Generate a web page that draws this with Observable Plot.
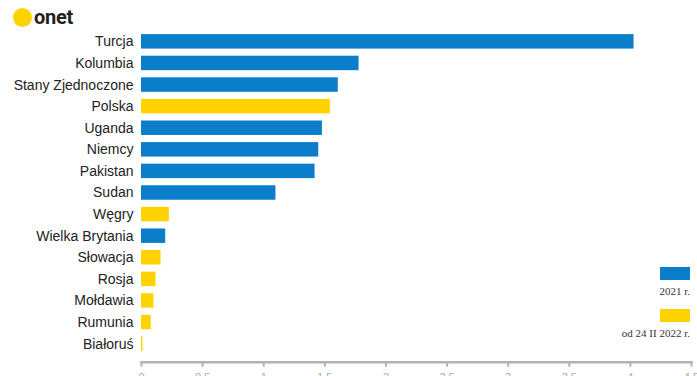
<!DOCTYPE html>
<html>
<head>
<meta charset="utf-8">
<script src="https://cdn.jsdelivr.net/npm/d3@7"></script>
<script src="https://cdn.jsdelivr.net/npm/@observablehq/plot@0.6"></script>
<style>
  html, body { margin: 0; padding: 0; background: #fff; }
  #wrap { position: relative; width: 697px; height: 376px; overflow: hidden; }
  #logo { position: absolute; left: 13px; top: 8px; display: flex; align-items: center; }
  #logo .dot { width: 19px; height: 19px; border-radius: 50%; background: #ffd200; }
  #logo .txt { font-family: Roboto, sans-serif; font-weight: 700; font-size: 20px; color: #222; margin-left: 2px; line-height: 19px; letter-spacing: -0.3px; }
  #legend { position: absolute; right: 7px; top: 267px; font-family: "Liberation Serif", serif; font-size: 11px; color: #333; text-align: right; }
  #legend .sw { width: 30px; height: 13px; margin-left: auto; }
  #legend .lab { margin-top: 5px; line-height: 13px; }
</style>
</head>
<body>
<div id="wrap">
  <div id="chart"></div>
  <div id="logo"><div class="dot"></div><div class="txt">onet</div></div>
  <div id="legend"></div>
</div>
<script>
const countries = ["Turcja", "Kolumbia", "Stany Zjednoczone", "Polska", "Uganda", "Niemcy", "Pakistan", "Sudan", "Węgry", "Wielka Brytania", "Słowacja", "Rosja", "Mołdawia", "Rumunia", "Białoruś"];
const values = [4.03, 1.78, 1.61, 1.545, 1.48, 1.45, 1.42, 1.10, 0.228, 0.198, 0.16, 0.119, 0.102, 0.08, 0.012];
const periods = ["2021 r.", "2021 r.", "2021 r.", "od 24 II 2022 r.", "2021 r.", "2021 r.", "2021 r.", "2021 r.", "od 24 II 2022 r.", "2021 r.", "od 24 II 2022 r.", "od 24 II 2022 r.", "od 24 II 2022 r.", "od 24 II 2022 r.", "od 24 II 2022 r."];
const seriesNames = ["2021 r.", "od 24 II 2022 r."];
const seriesColors = ["#0a7ecb", "#ffd300"];
const xTicks = [0, 0.5, 1, 1.5, 2, 2.5, 3, 3.5, 4, 4.5];

const data = countries.map((c, i) => ({country: c, value: values[i], period: periods[i]}));

const chart = Plot.plot({
  width: 697,
  height: 376,
  marginLeft: 141,
  marginRight: 6,
  marginTop: 27,
  marginBottom: 14.3,
  style: {fontFamily: "Liberation Sans, Arial, sans-serif", fontSize: "14px", color: "#222", background: "#fff", overflow: "visible"},
  x: {domain: [0, 4.5]},
  y: {domain: countries, padding: 0.33, insetBottom: 3.7, round: false},
  color: {domain: seriesNames, range: seriesColors},
  marks: [
    Plot.barX(data, {x: "value", y: "country", fill: "period"}),
    Plot.frame({anchor: "bottom", stroke: "#b3b3b3", strokeWidth: 2.5}),
    Plot.axisY({tickSize: 0, tickPadding: 8, label: null, fill: "#222"}),
    Plot.axisX({ticks: xTicks, tickSize: 5, tickPadding: 6, stroke: "#b3b3b3", strokeWidth: 2, fill: "#aaa", fontSize: 11, label: null,
      tickFormat: d => String(d).replace(".", ",")})
  ]
});
document.getElementById("chart").appendChild(chart);

const legend = document.getElementById("legend");
seriesNames.forEach((name, i) => {
  const item = document.createElement("div");
  item.style.marginBottom = i === 0 ? "11px" : "0";
  const sw = document.createElement("div");
  sw.className = "sw";
  sw.style.background = seriesColors[i];
  const lab = document.createElement("div");
  lab.className = "lab";
  lab.textContent = name;
  item.appendChild(sw);
  item.appendChild(lab);
  legend.appendChild(item);
});
</script>
</body>
</html>
